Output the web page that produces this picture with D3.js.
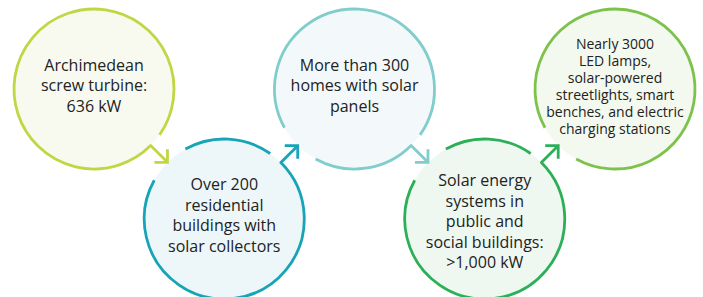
<!DOCTYPE html>
<html>
<head>
<meta charset="utf-8">
<script src="https://cdn.jsdelivr.net/npm/d3@7"></script>
<style>
  html, body { margin: 0; padding: 0; background: #fff; }
  svg { display: block; }
</style>
</head>
<body>
<div id="chart"></div>
<script>
// steps of the diagram, in reading order
var steps = ["turbine", "collectors", "homes", "public", "lamps"];
var rows = ["top", "bottom", "top", "bottom", "top"];
var labels = [
    ["Archimedean", "screw turbine:", "636 kW"],
    ["Over 200", "residential", "buildings with", "solar collectors"],
    ["More than 300", "homes with solar", "panels"],
    ["Solar energy", "systems in", "public and", "social buildings:", ">1,000 kW"],
    ["Nearly 3000", "LED lamps,", "solar-powered", "streetlights, smart", "benches, and electric", "charging stations"]
];
var strokeColors = ["#c2d644", "#17a4b6", "#80cdcc", "#2bb058", "#7cc24b"];
var fillColors = ["#f8faf0", "#edf7f9", "#f3f9fa", "#eff7f1", "#f3f9ef"];

var width = 703, height = 297;
var r = 80;
// small vertical nudge of each text block, as in the original layout
var textNudge = [2, 2, 2, 8, 2];

var svg = d3.select("#chart").append("svg")
    .attr("width", width)
    .attr("height", height);

var x = d3.scalePoint().domain(steps).range([94, 615]);
var y = d3.scalePoint().domain(["top", "bottom"]).range([89, 219]);
var stroke = d3.scaleOrdinal().domain(steps).range(strokeColors);
var fill = d3.scaleOrdinal().domain(steps).range(fillColors);

var deg = Math.PI / 180;

var nodes = steps.map(function (s, i) {
    var n = {key: s, cx: x(s), cy: y(rows[i]), lines: labels[i], i: i};
    if (i < steps.length - 1) {
        var nx = x(steps[i + 1]), ny = y(rows[i + 1]);
        n.out = Math.atan2(ny - n.cy, nx - n.cx);
    }
    return n;
});
nodes.forEach(function (n, i) {
    if (i > 0) n.inc = nodes[i - 1].out + Math.PI;
});

// fills first so arrows sit on top
svg.append("g").selectAll("circle")
    .data(nodes)
    .enter().append("circle")
    .attr("cx", function (d) { return d.cx; })
    .attr("cy", function (d) { return d.cy; })
    .attr("r", r)
    .attr("fill", function (d) { return fill(d.key); });

function outline(d) {
    var gaps = [];
    if (d.out !== undefined) gaps.push([d.out - 10 * deg, d.out]);
    if (d.inc !== undefined) gaps.push([d.inc - 16 * deg, d.inc + 16 * deg]);
    var p = d3.path();
    if (!gaps.length) {
        p.arc(d.cx, d.cy, r, 0, 2 * Math.PI);
        return p.toString();
    }
    var norm = function (a) { return ((a % (2 * Math.PI)) + 2 * Math.PI) % (2 * Math.PI); };
    gaps.sort(function (a, b) { return norm(a[1]) - norm(b[1]); });
    gaps.forEach(function (g, k) {
        var next = gaps[(k + 1) % gaps.length];
        var a0 = g[1], a1 = next[0];
        if (d.out !== undefined && g[1] === d.out) {
            // shaft comes out of the circle at the departure point
            var len = r + 23.8;
            p.moveTo(d.cx + len * Math.cos(a0), d.cy + len * Math.sin(a0));
            p.lineTo(d.cx + r * Math.cos(a0), d.cy + r * Math.sin(a0));
        } else {
            p.moveTo(d.cx + r * Math.cos(a0), d.cy + r * Math.sin(a0));
        }
        p.arc(d.cx, d.cy, r, a0, a1);
    });
    return p.toString();
}

function arrowHead(d) {
    var len = r + 23.8, a = 13;
    var tx = d.cx + len * Math.cos(d.out), ty = d.cy + len * Math.sin(d.out);
    var sx = Math.sign(Math.cos(d.out)), sy = Math.sign(Math.sin(d.out));
    return "M" + (tx - a * sx) + "," + ty + "L" + tx + "," + ty + "L" + tx + "," + (ty - a * sy);
}

var strokes = svg.append("g")
    .attr("fill", "none")
    .attr("stroke-width", 2.8);

strokes.selectAll("path.outline")
    .data(nodes)
    .enter().append("path")
    .attr("class", "outline")
    .attr("d", outline)
    .attr("stroke", function (d) { return stroke(d.key); })
    .attr("stroke-linejoin", "round");

strokes.selectAll("path.head")
    .data(nodes.filter(function (d) { return d.out !== undefined; }))
    .enter().append("path")
    .attr("class", "head")
    .attr("d", arrowHead)
    .attr("stroke", function (d) { return stroke(d.key); })
    .attr("stroke-linejoin", "miter");

// labels
var txt = svg.append("g")
    .attr("font-family", "'Open Sans', sans-serif")
    .attr("fill", "#222")
    .attr("text-anchor", "middle")
    .selectAll("text")
    .data(nodes)
    .enter().append("text")
    .attr("font-size", function (d) { return d.lines.length > 5 ? 14 : 16; });

txt.each(function (d) {
    var lh = d.lines.length > 5 ? 17 : 20.5;
    var first = d.cy - (d.lines.length - 1) / 2 * lh + textNudge[d.i];
    d3.select(this).selectAll("tspan")
        .data(d.lines)
        .enter().append("tspan")
        .attr("x", d.cx)
        .attr("y", function (l, k) { return first + k * lh; })
        .text(function (l) { return l; });
});
</script>
</body>
</html>
